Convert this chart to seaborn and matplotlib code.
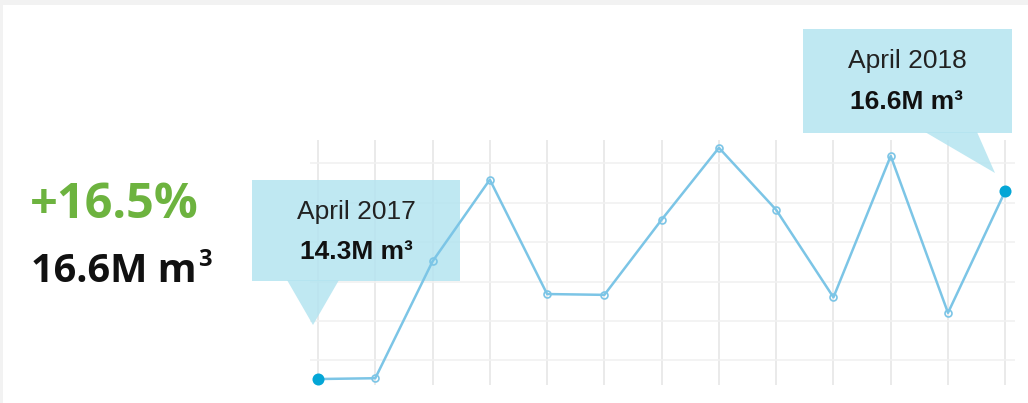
import pandas as pd
import numpy as np
import matplotlib.pyplot as plt
import seaborn as sns
from matplotlib.patches import Rectangle, Polygon

sns.set_style("white")

# Monthly volume, April 2017 - April 2018 (million m3)
months = ['Apr 2017', 'May 2017', 'Jun 2017', 'Jul 2017', 'Aug 2017', 'Sep 2017', 'Oct 2017',
          'Nov 2017', 'Dec 2017', 'Jan 2018', 'Feb 2018', 'Mar 2018', 'Apr 2018']
volume = [14.30, 14.31, 15.74, 16.74, 15.34, 15.33, 16.25, 17.13, 16.37, 15.30, 17.03, 15.11, 16.60]
grid_levels = [14.53, 15.01, 15.49, 15.98, 16.46, 16.94]

change_label = '+16.5%'
total_label = ('16.6M m', '3')
start_label = ('April 2017', '14.3M m³')
end_label = ('April 2018', '16.6M m³')

df = pd.DataFrame({'month': months, 'idx': np.arange(len(months)), 'volume': volume})

W, H = 1028, 403
fig = plt.figure(figsize=(W / 100, H / 100), dpi=100, facecolor='#f2f2f2')

def px(x, y, w=0, h=0):
    # pixel box (top-left origin) -> figure fraction
    return [x / W, 1 - (y + h) / H, w / W, h / H]

# white card
fig.patches.append(Rectangle((3 / W, 0), 1, 1 - 5 / H, transform=fig.transFigure,
                             facecolor='white', edgecolor='none', zorder=-2))

ax = fig.add_axes(px(310, 140, 705, 245))
ax.set_facecolor('none')
ax.set_zorder(2)

line_col = '#7cc5e6'
dot_col = '#04a6d6'

sns.lineplot(data=df, x='idx', y='volume', ax=ax, color=line_col, linewidth=1.8,
             marker='o', markersize=5, markerfacecolor='none', markeredgecolor=line_col,
             markeredgewidth=1.2, zorder=3)
ends = df.iloc[[0, -1]]
ax.scatter(ends['idx'], ends['volume'], s=75, color=dot_col, zorder=4, linewidths=0)

ax.set_xlim(-0.14, len(months) - 1 + 0.17)
ax.set_ylim(14.227, 17.225)
for i in df['idx']:
    ax.axvline(i, color='#e6e6e6', linewidth=1.2, zorder=1)
for g in grid_levels:
    ax.axhline(g, color='#f1f1f1', linewidth=1.2, zorder=1)
ax.set_xticks([])
ax.set_yticks([])
ax.set_xlabel('')
ax.set_ylabel('')
for s in ax.spines.values():
    s.set_visible(False)

box_col = '#b4e4f0'

def callout(x0, y0, x1, y1, tri, title, value, cx, ty, vy):
    # boxes live in the axes (between grid and line) but are placed in figure pixels
    ax.add_patch(Rectangle((x0 / W, 1 - y1 / H), (x1 - x0) / W, (y1 - y0) / H,
                           transform=fig.transFigure, facecolor=box_col, alpha=0.85,
                           edgecolor='none', zorder=2, clip_on=False))
    ax.add_patch(Polygon([(a / W, 1 - b / H) for a, b in tri], closed=True,
                         transform=fig.transFigure, facecolor=box_col, alpha=0.85,
                         edgecolor='none', zorder=2, clip_on=False))
    ax.text(cx / W, 1 - ty / H, title, ha='center', va='center', fontsize=19,
            family='Liberation Sans', color='#222222', zorder=5, transform=fig.transFigure)
    ax.text(cx / W, 1 - vy / H, value, ha='center', va='center', fontsize=19,
            family='Liberation Sans', weight='bold', color='#111111', zorder=5,
            transform=fig.transFigure)

callout(252, 180, 460, 281, [(287, 280), (339, 280), (313, 325)],
        start_label[0], start_label[1], 356, 212, 252)
callout(803, 29, 1012, 133, [(925, 132), (977, 132), (995, 173)],
        end_label[0], end_label[1], 907, 61, 102)

fig.text(30 / W, 1 - 205 / H, change_label, ha='left', va='center', fontsize=35,
         family='Open Sans', weight='bold', color='#6db33f')
base = fig.text(31 / W, 1 - 272 / H, total_label[0], ha='left', va='center', fontsize=28.5,
                family='Open Sans', weight='bold', color='#111111')
bb = base.get_window_extent(renderer=fig.canvas.get_renderer())
fig.text((bb.x1 + 1) / W, 1 - 260 / H, total_label[1], ha='left', va='center', fontsize=17,
         family='Open Sans', weight='bold', color='#111111')

fig.savefig('out.png', dpi=100, facecolor=fig.get_facecolor())
